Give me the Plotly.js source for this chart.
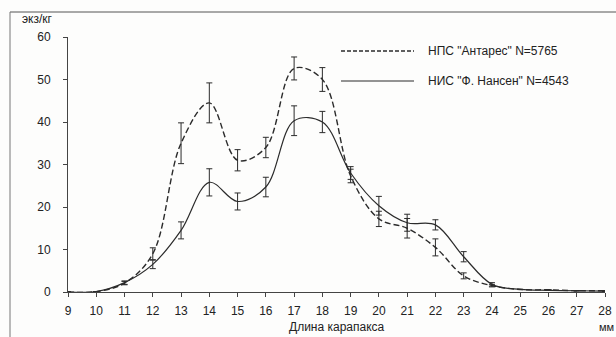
<!DOCTYPE html>
<html>
<head>
<meta charset="utf-8">
<script src="https://cdn.plot.ly/plotly-3.0.1.min.js"></script>
<style>
html,body{margin:0;padding:0;background:#fdfdfc;}
#chart{width:616px;height:337px;}
</style>
</head>
<body>
<div id="chart"></div>
<script>
// Carapace length, mm
const lengths = [9,10,11,12,13,14,15,16,17,18,19,20,21,22,23,24,25,26,27,28];
// НПС "Антарес" N=5765, specimens per kg
const antares    = [0, 0.1, 2.1, 9.0, 35.0, 44.5, 31.0, 34.0, 52.6, 50.0, 27.3, 17.2, 15.0, 10.5, 3.8, 1.5, 0.6, 0.5, 0.3, 0.3];
const antaresErr = [0, 0,   0.4, 1.4, 4.8,  4.7,  2.5,  2.4,  2.7,  2.8,  1.6,  1.8,  2.3,  2.0,  0.7, 0.3, 0,   0,   0,   0];
// НИС "Ф. Нансен" N=4543
const nansen     = [0, 0.1, 2.2, 6.5, 14.5, 25.8, 21.3, 24.7, 40.3, 40.0, 28.0, 20.3, 16.3, 15.8, 8.3, 1.8, 0.6, 0.4, 0.3, 0.2];
const nansenErr  = [0, 0,   0.4, 1.0, 2.0,  3.2,  2.0,  2.3,  3.5,  2.5,  1.5,  2.2,  2.0,  1.2,  1.2, 0.4, 0,   0,   0,   0];
const yTicks = [0,10,20,30,40,50,60];
const xTicks = lengths;
const legendNames = ['НПС "Антарес" N=5765', 'НИС "Ф. Нансен" N=4543'];

const ink = '#2b2b2b';
const fontFam = '"Liberation Sans", Arial, sans-serif';

const traces = [
  {
    x: lengths, y: antares, type: 'scatter', mode: 'lines', name: legendNames[0],
    line: {color: ink, width: 1.4, dash: '6px,3px', shape: 'spline', smoothing: 1},
    error_y: {type: 'data', array: antaresErr, visible: true, color: ink, thickness: 1, width: 3},
    cliponaxis: false, showlegend: false
  },
  {
    x: lengths, y: nansen, type: 'scatter', mode: 'lines', name: legendNames[1],
    line: {color: ink, width: 1.2, shape: 'spline', smoothing: 1},
    error_y: {type: 'data', array: nansenErr, visible: true, color: ink, thickness: 1, width: 3},
    cliponaxis: false, showlegend: false
  }
];

const W = 616, H = 337, L = 68, R = 11, T = 37, B = 45;
const pw = W - L - R, ph = H - T - B;
const px = v => (v - L) / pw;
const py = v => (H - B - v) / ph;

const layout = {
  width: W, height: H,
  margin: {l: L, r: R, t: T, b: B},
  paper_bgcolor: '#fdfdfc',
  plot_bgcolor: '#fdfdfc',
  font: {family: fontFam, color: '#222', size: 12},
  showlegend: false,
  xaxis: {
    range: [9, 28], tickvals: xTicks, ticktext: xTicks.map(String),
    showline: true, linecolor: '#444', linewidth: 1,
    ticks: 'outside', ticklen: 4, tickcolor: '#444',
    ticklabelstandoff: 4,
    showgrid: false, zeroline: false,
    tickfont: {size: 12, color: '#222', family: fontFam}
  },
  yaxis: {
    range: [0, 60], tickvals: yTicks, ticktext: yTicks.map(String),
    showline: true, linecolor: '#444', linewidth: 1,
    ticks: 'outside', ticklen: 4, tickcolor: '#444',
    ticklabelstandoff: 10,
    showgrid: false, zeroline: false,
    tickfont: {size: 12, color: '#222', family: fontFam}
  },
  shapes: [
    // scanned frame
    {type: 'line', xref: 'paper', yref: 'paper', x0: px(10), x1: px(616), y0: py(12), y1: py(12), line: {color: '#555', width: 1}},
    {type: 'line', xref: 'paper', yref: 'paper', x0: px(10), x1: px(10), y0: py(12), y1: py(337), line: {color: '#777', width: 1}},
    // legend samples
    {type: 'line', xref: 'paper', yref: 'paper', x0: px(341), x1: px(414), y0: py(51), y1: py(51), line: {color: ink, width: 1.3, dash: '4px,2px'}},
    {type: 'line', xref: 'paper', yref: 'paper', x0: px(341), x1: px(414), y0: py(81), y1: py(81), line: {color: ink, width: 1.2}}
  ],
  annotations: [
    {text: legendNames[0], xref: 'paper', yref: 'paper', x: px(426), y: py(51), xanchor: 'left', yanchor: 'middle', showarrow: false, font: {size: 12, color: '#222'}},
    {text: legendNames[1], xref: 'paper', yref: 'paper', x: px(426), y: py(81), xanchor: 'left', yanchor: 'middle', showarrow: false, font: {size: 12, color: '#222'}},
    {text: 'экз/кг', xref: 'paper', yref: 'paper', x: px(37), y: py(19), xanchor: 'center', yanchor: 'middle', showarrow: false, font: {size: 12, color: '#222'}},
    {text: 'Длина карапакса', xref: 'paper', yref: 'paper', x: 0.5, y: py(327), xanchor: 'center', yanchor: 'middle', showarrow: false, font: {size: 12, color: '#222'}},
    {text: 'мм', xref: 'paper', yref: 'paper', x: px(606), y: py(327), xanchor: 'center', yanchor: 'middle', showarrow: false, font: {size: 11, color: '#222'}}
  ]
};

Plotly.newPlot('chart', traces, layout, {displayModeBar: false, staticPlot: true});
</script>
</body>
</html>
